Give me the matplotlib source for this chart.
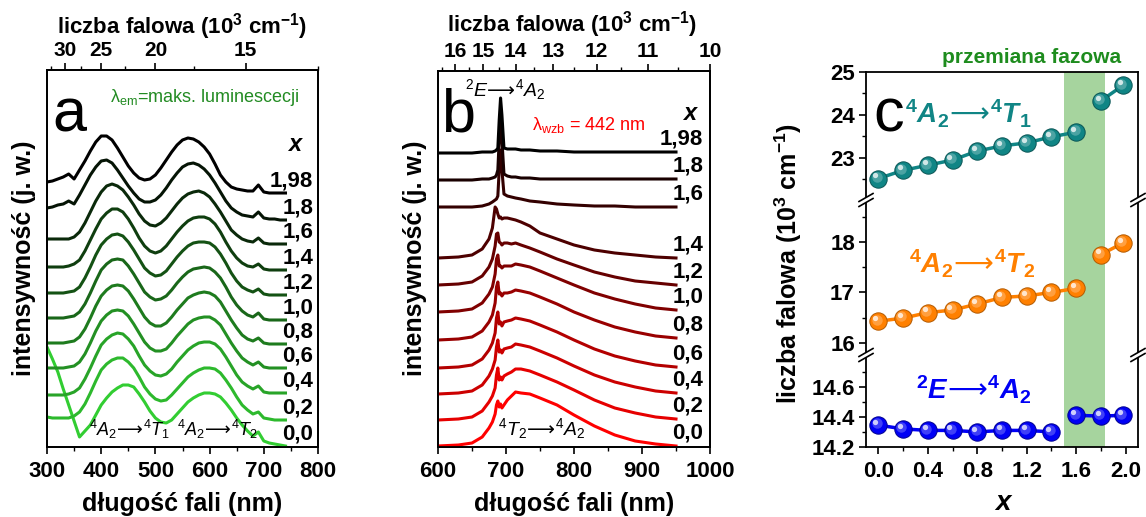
import numpy as np
import matplotlib
matplotlib.use("Agg")
import matplotlib.pyplot as plt
import matplotlib.transforms as mtrans
from matplotlib.lines import Line2D
from matplotlib.patches import Polygon
from matplotlib.ticker import FixedLocator, MultipleLocator

plt.rcParams['font.family'] = ['Liberation Sans', 'DejaVu Sans']
plt.rcParams['mathtext.fontset'] = 'custom'
plt.rcParams['mathtext.rm'] = 'Liberation Sans'
plt.rcParams['mathtext.it'] = 'Liberation Sans:italic'
plt.rcParams['mathtext.bf'] = 'Liberation Sans:bold'
plt.rcParams['mathtext.bfit'] = 'Liberation Sans:bold:italic'
plt.rcParams['mathtext.sf'] = 'DejaVu Sans'
plt.rcParams['mathtext.fallback'] = 'cm'

# ---------------- data ----------------
x_labels = ['0,0', '0,2', '0,4', '0,6', '0,8', '1,0', '1,2', '1,4', '1,6', '1,8', '1,98']

# (a) excitation spectra, stacked (a.u.), 300-740 nm every 10 nm
exc_wl = list(range(300, 741, 10))
exc_000 = [100, 88, 75, 58, 42, 26, 10, 16, 22, 32, 42, 49, 55, 59, 62, 62, 60, 53, 45, 36, 29, 25, 24,
           27, 33, 39, 45, 49, 52, 54, 54, 53, 50, 44, 37, 29, 22, 16, 11, 15, 6, 4, 3, 2, 1]
exc_020 = [30, 29, 29, 29, 29, 31, 35, 43, 54, 66, 77, 83, 87, 89, 89, 85, 79, 70, 60, 53, 48, 46, 47,
           52, 58, 64, 70, 74, 77, 79, 79, 78, 74, 67, 59, 50, 42, 37, 33, 35, 29, 28, 27, 27, 27]
exc_040 = [52, 52, 52, 52, 53, 55, 59, 68, 79, 91, 102, 108, 112, 114, 113, 108, 101, 91, 82, 76, 72, 71, 73,
           78, 85, 91, 97, 101, 104, 105, 105, 103, 98, 90, 81, 72, 65, 61, 58, 61, 55, 54, 54, 54, 54]
exc_060 = [79, 79, 79, 79, 80, 81, 85, 93, 104, 116, 126, 132, 136, 137, 136, 131, 123, 114, 105, 99, 96, 96, 98,
           104, 111, 117, 123, 127, 129, 130, 130, 127, 122, 113, 104, 96, 89, 85, 82, 85, 80, 79, 79, 79, 79]
exc_080 = [104, 104, 104, 104, 105, 106, 110, 118, 129, 141, 151, 157, 161, 162, 161, 156, 148, 139, 130, 124, 121, 121, 124,
           130, 137, 143, 149, 152, 154, 155, 154, 151, 145, 136, 127, 119, 112, 108, 106, 109, 104, 103, 103, 103, 103]
exc_100 = [129, 129, 129, 129, 130, 131, 135, 143, 154, 166, 177, 183, 187, 188, 187, 181, 173, 164, 155, 150, 147, 148, 151,
           157, 164, 170, 175, 178, 179, 180, 179, 175, 169, 160, 150, 142, 136, 132, 130, 134, 128, 127, 127, 127, 127]
exc_120 = [154, 154, 154, 154, 155, 156, 160, 169, 180, 192, 202, 208, 212, 213, 211, 205, 197, 188, 179, 174, 171, 172, 176,
           183, 190, 196, 201, 204, 205, 205, 204, 200, 193, 184, 174, 166, 160, 157, 155, 158, 153, 152, 152, 152, 152]
exc_140 = [180, 180, 180, 180, 181, 183, 187, 196, 207, 218, 228, 234, 238, 238, 235, 228, 219, 209, 201, 196, 194, 196, 201,
           208, 215, 221, 226, 229, 230, 230, 228, 223, 215, 205, 196, 189, 184, 181, 180, 183, 178, 177, 177, 177, 177]
exc_160 = [208, 208, 208, 208, 208, 210, 215, 224, 235, 246, 255, 261, 263, 261, 257, 250, 242, 233, 226, 222, 221, 224, 229,
           236, 243, 249, 253, 255, 256, 254, 250, 243, 235, 226, 217, 212, 208, 206, 205, 209, 204, 203, 203, 203, 203]
exc_180 = [239, 240, 242, 243, 246, 243, 252, 262, 272, 280, 286, 287, 284, 277, 269, 261, 254, 248, 245, 245, 247, 252, 259,
           267, 274, 280, 283, 284, 282, 278, 272, 264, 255, 246, 239, 235, 232, 231, 230, 235, 229, 228, 228, 227, 227]
exc_198 = [265, 266, 268, 270, 273, 268, 277, 286, 296, 305, 311, 311, 307, 299, 290, 281, 274, 269, 267, 268, 272, 279, 287,
           295, 302, 307, 309, 308, 305, 300, 293, 283, 272, 265, 260, 258, 257, 256, 256, 262, 255, 254, 254, 254, 254]
exc_curves = [exc_000, exc_020, exc_040, exc_060, exc_080, exc_100,
              exc_120, exc_140, exc_160, exc_180, exc_198]

# (b) emission spectra, stacked (a.u.)
em_wl = [600, 630, 650, 665, 675, 680, 684, 686, 688, 690, 692, 694, 697, 702,
         708, 714, 722, 735, 750, 775, 800, 830, 860, 890, 920, 950]
em_000 = [1, 2, 4, 10, 19, 25, 33, 42, 46, 40, 43, 39, 42, 47, 51, 55, 54, 53, 49, 42, 32, 21, 12, 6, 3, 1]
em_020 = [27, 28, 30, 36, 45, 51, 59, 72, 79, 67, 70, 67, 71, 73, 75, 78, 78, 76, 72, 65, 57, 47, 39, 34, 30, 28]
em_040 = [53, 54, 56, 62, 71, 78, 87, 100, 107, 95, 97, 94, 98, 99, 100, 103, 102, 100, 96, 89, 81, 72, 65, 60, 56, 54]
em_060 = [79, 80, 82, 88, 97, 104, 114, 129, 135, 123, 125, 121, 125, 126, 127, 129, 128, 126, 122, 115, 107, 98, 91, 86, 82, 80]
em_080 = [107, 108, 110, 116, 125, 132, 144, 160, 165, 153, 154, 151, 154, 154, 155, 157, 156, 154, 150, 143, 135, 127, 120, 115, 111, 109]
em_100 = [135, 136, 138, 144, 153, 160, 173, 188, 192, 181, 181, 179, 181, 181, 181, 183, 182, 180, 176, 169, 162, 154, 148, 143, 139, 137]
em_120 = [162, 163, 165, 171, 180, 188, 201, 213, 214, 205, 204, 202, 204, 204, 203, 204, 202, 199, 195, 188, 182, 175, 170, 166, 164, 162]
em_140 = [189, 190, 192, 198, 208, 219, 240, 238, 233, 229, 230, 228, 229, 229, 228, 227, 225, 221, 214, 208, 202, 197, 194, 192, 190, 189]
em_160 = [240, 240, 240, 241, 243, 245, 247, 248, 251, 277, 297, 277, 253, 251, 250, 249, 248, 246, 245, 243, 242, 241, 241, 240, 240, 240]
em_180 = [267, 267, 267, 268, 268, 269, 270, 272, 277, 307, 329, 307, 273, 271, 270, 270, 269, 269, 268, 268, 268, 268, 268, 268, 268, 268]
em_198 = [294, 294, 294, 295, 295, 295, 296, 297, 299, 327, 349, 332, 299, 298, 298, 298, 297, 297, 296, 296, 295, 295, 295, 295, 295, 295]
em_curves = [em_000, em_020, em_040, em_060, em_080, em_100,
             em_120, em_140, em_160, em_180, em_198]

# (c) band positions (10^3 cm^-1) versus x
x_c = [0.0, 0.2, 0.4, 0.6, 0.8, 1.0, 1.2, 1.4, 1.6, 1.8, 1.98]
band_T1 = [22.52, 22.71, 22.83, 22.95, 23.16, 23.28, 23.35, 23.49, 23.60, 24.33, 24.69]
band_T2 = [16.43, 16.49, 16.60, 16.65, 16.77, 16.90, 16.93, 17.00, 17.08, 17.75, 17.98]
band_E = [14.345, 14.32, 14.31, 14.31, 14.30, 14.31, 14.31, 14.30, 14.41, 14.405, 14.41]
split_T = 9   # first index of high-x phase for 4T1 / 4T2
split_E = 8   # first index of high-x phase for 2E
phase_lo, phase_hi = 1.5, 1.83

wn_ticks_a = [30, 25, 20, 15]
wn_minor_a = [32.5, 27.5, 22.5, 17.5, 12.5]
wn_ticks_b = [16, 15, 14, 13, 12, 11, 10]
wn_minor_b = [16.5, 15.5, 14.5, 13.5, 12.5, 11.5, 10.5]

# ---------------- layout helpers ----------------
W, H = 1146, 517
fig = plt.figure(figsize=(W / 100, H / 100), dpi=100)


def box(l, t, r, b):
    return [l / W, 1 - b / H, (r - l) / W, (b - t) / H]


def fx(px):
    return px / W


def fy(py):
    return 1 - py / H


def style_spines(ax, lw=1.3):
    for s in ax.spines.values():
        s.set_linewidth(lw)


def bold_ticklabels(ax):
    for t in ax.get_xticklabels() + ax.get_yticklabels():
        t.set_fontweight('bold')


def add_top_axis(ax, wn_major, wn_minor):
    top = ax.twiny()
    top.set_xlim(ax.get_xlim())
    top.xaxis.set_major_locator(FixedLocator([1e4 / w for w in wn_major]))
    top.set_xticklabels([str(w) for w in wn_major])
    lo, hi = ax.get_xlim()
    top.xaxis.set_minor_locator(FixedLocator([1e4 / w for w in wn_minor if lo <= 1e4 / w <= hi]))
    top.tick_params(axis='x', which='major', direction='out', length=5, width=1.2,
                    labelsize=15, pad=2)
    top.tick_params(axis='x', which='minor', direction='out', length=3, width=1.0)
    for t in top.get_xticklabels():
        t.set_fontweight('bold')
    style_spines(top)
    return top


def setup_spectrum_axes(ax, xlim, xstep, ymax):
    ax.set_xlim(*xlim)
    ax.set_ylim(0, ymax)
    ax.xaxis.set_major_locator(MultipleLocator(xstep))
    ax.xaxis.set_minor_locator(MultipleLocator(xstep / 2))
    ax.set_yticks([])
    ax.tick_params(axis='x', which='major', direction='out', length=5, width=1.2,
                   labelsize=16, pad=5, top=False)
    ax.tick_params(axis='x', which='minor', direction='out', length=3, width=1.0, top=False)
    bold_ticklabels(ax)
    style_spines(ax)


ARROW = r'\!\mathsf{\longrightarrow}\!'

# ---------------- panel (a) ----------------
ax_a = fig.add_axes(box(47, 70, 318, 447))
setup_spectrum_axes(ax_a, (300, 800), 100, 377)
green_end = np.array([50, 205, 50]) / 255
for i, vals in enumerate(exc_curves):
    col = tuple(green_end * (1 - i / 10))
    ax_a.plot(exc_wl, vals, color=col, lw=2.2, solid_joinstyle='round', zorder=3 + i)
    ax_a.text(791, vals[-1] + 12, x_labels[i], ha='right', va='center',
              fontsize=16, fontweight='bold', zorder=20)
add_top_axis(ax_a, wn_ticks_a, wn_minor_a)

fig.text(fx(52), fy(131), 'a', fontsize=44, ha='left', va='baseline')
fig.text(fx(110), fy(102), 'λ$_{\\mathrm{em}}$=maks. luminescecji', fontsize=13,
         color='#228b22', ha='left', va='baseline')
fig.text(fx(295), fy(145), 'x', fontsize=17, fontweight='bold', fontstyle='italic',
         ha='center', va='center')
fig.text(fx(89), fy(436), r'$^{4}A_{2}' + ARROW + r'^{4}T_{1}$', fontsize=13,
         ha='left', va='baseline')
fig.text(fx(177), fy(436), r'$^{4}A_{2}' + ARROW + r'^{4}T_{2}$', fontsize=13,
         ha='left', va='baseline')

# ---------------- panel (b) ----------------
ax_b = fig.add_axes(box(438, 71, 710, 447))
setup_spectrum_axes(ax_b, (600, 1000), 100, 376)
red_end = np.array([255, 0, 0]) / 255
for i, vals in enumerate(em_curves):
    col = tuple(red_end * (1 - i / 10))
    ax_b.plot(em_wl, vals, color=col, lw=2.2, solid_joinstyle='round', zorder=3 + i)
    ax_b.text(990, vals[-1] + 13, x_labels[i], ha='right', va='center',
              fontsize=16, fontweight='bold', zorder=20)
add_top_axis(ax_b, wn_ticks_b, wn_minor_b)

fig.text(fx(441), fy(132), 'b', fontsize=44, ha='left', va='baseline')
fig.text(fx(465), fy(96), r'$^{2}E' + ARROW + r'^{4}A_{2}$', fontsize=14,
         ha='left', va='baseline')
fig.text(fx(532), fy(130), 'λ$_{\\mathrm{wzb}}$ = 442 nm', fontsize=13,
         color='#ff0000', ha='left', va='baseline')
fig.text(fx(690), fy(113), 'x', fontsize=17, fontweight='bold', fontstyle='italic',
         ha='center', va='center')
fig.text(fx(498), fy(435), r'$^{4}T_{2}' + ARROW + r'^{4}A_{2}$', fontsize=14,
         ha='left', va='baseline')

# shared axis titles for (a) and (b)
for cx, cy_top in ((182, 33), (572, 31)):
    fig.text(fx(cx), fy(cy_top), r'liczba falowa (10$^{\mathbf{3}}$ cm$^{\mathbf{-1}}$)',
             fontsize=16, fontweight='bold', ha='center', va='baseline')
for cx in (182, 574):
    fig.text(fx(cx), fy(511), 'długość fali (nm)', fontsize=18, fontweight='bold',
             ha='center', va='baseline')
for cx in (24, 415):
    fig.text(fx(cx), fy(258), 'intensywność (j. w.)', fontsize=18, fontweight='bold',
             rotation=90, ha='center', va='center')

# ---------------- panel (c) : broken y axis ----------------
ax_top = fig.add_axes(box(866, 72, 1138, 200))
ax_mid = fig.add_axes(box(866, 200, 1138, 355))
ax_bot = fig.add_axes(box(866, 355, 1138, 447))

limits = {ax_top: (22.02, 25.0), ax_mid: (15.76, 18.83), ax_bot: (14.2, 14.81)}
majors = {ax_top: [23, 24, 25], ax_mid: [16, 17, 18], ax_bot: [14.2, 14.4, 14.6]}
minors = {ax_top: [22.5, 23.5, 24.5], ax_mid: [16.5, 17.5, 18.5], ax_bot: [14.3, 14.5, 14.7]}
fmt = {ax_top: '{:.0f}', ax_mid: '{:.0f}', ax_bot: '{:.1f}'}

for ax in (ax_top, ax_mid, ax_bot):
    ax.set_xlim(-0.1, 2.1)
    ax.set_ylim(*limits[ax])
    ax.axvspan(phase_lo, phase_hi, color='#a6d49e', lw=0, zorder=0)
    ax.yaxis.set_major_locator(FixedLocator(majors[ax]))
    ax.set_yticklabels([fmt[ax].format(v) for v in majors[ax]])
    ax.yaxis.set_minor_locator(FixedLocator(minors[ax]))
    ax.tick_params(axis='y', which='major', direction='out', length=5, width=1.2,
                   labelsize=16, pad=3, right=False)
    ax.tick_params(axis='y', which='minor', direction='out', length=3, width=1.0, right=False)
    style_spines(ax)

ax_top.spines['bottom'].set_visible(False)
ax_mid.spines['top'].set_visible(False)
ax_mid.spines['bottom'].set_visible(False)
ax_bot.spines['top'].set_visible(False)
for ax in (ax_top, ax_mid):
    ax.tick_params(axis='x', which='both', bottom=False, top=False, labelbottom=False)

ax_bot.xaxis.set_major_locator(FixedLocator([0.0, 0.4, 0.8, 1.2, 1.6, 2.0]))
ax_bot.set_xticklabels(['0.0', '0.4', '0.8', '1.2', '1.6', '2.0'])
ax_bot.xaxis.set_minor_locator(FixedLocator([0.2, 0.6, 1.0, 1.4, 1.8]))
ax_bot.tick_params(axis='x', which='major', direction='out', length=5, width=1.2,
                   labelsize=16, pad=5, top=False)
ax_bot.tick_params(axis='x', which='minor', direction='out', length=3, width=1.0, top=False)
for ax in (ax_top, ax_mid, ax_bot):
    bold_ticklabels(ax)


def ball_series(ax, xs, ys, color, edge):
    ax.plot(xs, ys, '-', color=color, lw=2.5, zorder=3)
    ax.plot(xs, ys, 'o', ms=12.5, mfc=color, mec=edge, mew=0.7, zorder=4)
    glow = ax.transData + mtrans.ScaledTranslation(-1.2 / 72, 1.2 / 72, fig.dpi_scale_trans)
    ax.plot(xs, ys, 'o', ms=7.5, mfc='white', mec='none', alpha=0.25, zorder=5,
            transform=glow)
    spot = ax.transData + mtrans.ScaledTranslation(-2.3 / 72, 2.3 / 72, fig.dpi_scale_trans)
    ax.plot(xs, ys, 'o', ms=3.8, mfc='white', mec='none', alpha=0.75, zorder=6,
            transform=spot)


series_c = [
    (ax_top, band_T1, split_T, '#108585', '#0a5555'),
    (ax_mid, band_T2, split_T, '#ff8000', '#b35a00'),
    (ax_bot, band_E, split_E, '#0000f5', '#000090'),
]
for ax, ys, k, col, edge in series_c:
    ball_series(ax, x_c[:k], ys[:k], col, edge)
    ball_series(ax, x_c[k:], ys[k:], col, edge)

# break marks on both vertical spines
for by in (200, 355):
    for bx in (866, 1138):
        gap = [(bx - 7, by + 1.5), (bx + 7, by - 6.5), (bx + 7, by - 1.5), (bx - 7, by + 6.5)]
        fig.add_artist(Polygon([(fx(px), fy(py)) for px, py in gap], closed=True,
                               transform=fig.transFigure, facecolor='white',
                               edgecolor='none', zorder=5))
        for dy in (-2.5, 2.5):
            fig.add_artist(Line2D([fx(bx - 7), fx(bx + 7)], [fy(by + dy + 4), fy(by + dy - 4)],
                                  transform=fig.transFigure, color='black', lw=1.2, zorder=6))

fig.text(fx(873), fy(131), 'c', fontsize=44, ha='left', va='baseline')
fig.text(fx(1032), fy(63), 'przemiana fazowa', fontsize=15, fontweight='bold',
         color='#1e8c1e', ha='center', va='baseline')
fig.text(fx(905), fy(124),
         r'$^{\mathbf{4}}\mathbfit{A}_{\mathbf{2}}' + ARROW + r'^{\mathbf{4}}\mathbfit{T}_{\mathbf{1}}$',
         fontsize=20, color='#108585', ha='left', va='baseline')
fig.text(fx(909), fy(274),
         r'$^{\mathbf{4}}\mathbfit{A}_{\mathbf{2}}' + ARROW + r'^{\mathbf{4}}\mathbfit{T}_{\mathbf{2}}$',
         fontsize=20, color='#ff8000', ha='left', va='baseline')
fig.text(fx(916), fy(399),
         r'$^{\mathbf{2}}\mathbfit{E}' + ARROW + r'^{\mathbf{4}}\mathbfit{A}_{\mathbf{2}}$',
         fontsize=20, color='#0000f5', ha='left', va='baseline')
fig.text(fx(788), fy(263), r'liczba falowa (10$^{\mathbf{3}}$ cm$^{\mathbf{-1}}$)',
         fontsize=18, fontweight='bold', rotation=90, ha='center', va='center')
fig.text(fx(1003), fy(510), 'x', fontsize=20, fontweight='bold', fontstyle='italic',
         ha='center', va='baseline')

fig.savefig('out.png', dpi=100)
